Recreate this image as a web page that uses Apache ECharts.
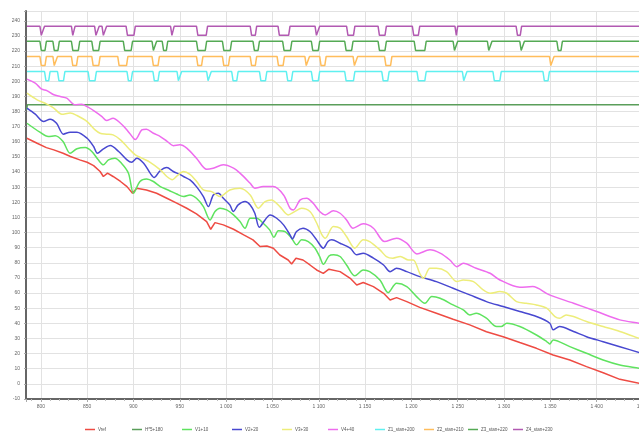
<!DOCTYPE html>
<html>
<head>
<meta charset="utf-8">
<title>V / Z curves</title>
<script src="https://cdn.jsdelivr.net/npm/echarts@6.0.0/dist/echarts.min.js"></script>
<style>
  html, body { margin: 0; padding: 0; background: #fff; }
  #main { width: 639px; height: 434px; }
</style>
</head>
<body>
<div id="main"></div>
<script>
// measured curves, [x, value] as plotted (offset already added)
var vref = [[785,162.4],[796,159.1],[806,156.2],[814,154.7],[824,152.5],[832,150.3],[842,148.1],[850,146.5],[857,144.3],[864,140.4],[867.5,137.1],[872,139.3],[878,137.1],[886,133.8],[893,130.4],[899,126.0],[903.5,129.3],[914,128.2],[925,126.0],[936,122.7],[946.7,119.5],[957.5,116.1],[968,112.4],[979,107.3],[983.4,102.2],[988,106.6],[997,105.1],[1008,102.2],[1019,98.5],[1029,95.2],[1036.6,90.8],[1044,91.2],[1051,89.7],[1058,85.2],[1067,81.9],[1070.7,79.3],[1075.4,83.0],[1083,81.9],[1090.5,78.6],[1097.7,75.3],[1104.9,73.1],[1111,75.8],[1123,74.2],[1134,69.8],[1141,65.4],[1148,67.0],[1159,64.3],[1170,59.9],[1177,55.5],[1184,57.0],[1195,54.4],[1209,50.6],[1227,46.7],[1245,42.7],[1263,39.0],[1281,34.5],[1299,31.2],[1317,27.3],[1335,23.5],[1353,19.1],[1371,15.8],[1389,11.4],[1407,7.4],[1425,3.0],[1446,0.4],[1450,-0.3]]

var hLine = [[784.5,181],[785.5,184.5],[1450,184.5]]

var v1 = [[785,172.3],[799,166.4],[808,163.5],[815.5,164.0],[824,160.2],[831.6,152.5],[839,155.4],[848,156.2],[855,153.6],[862,148.1],[867.6,144.8],[873,148.1],[880,149.2],[887,145.9],[894.6,139.3],[900,126.0],[907,133.8],[914,135.5],[921.5,133.8],[929,130.4],[938,128.0],[946.7,125.5],[954,123.8],[961,124.9],[968,122.7],[975.5,117.2],[982.7,108.4],[988,113.9],[993.4,116.1],[1000.6,115.0],[1008,111.7],[1015,107.3],[1020.4,102.9],[1026,109.5],[1033,109.5],[1040,106.2],[1047,101.8],[1051.7,96.9],[1056.4,101.3],[1063.6,100.7],[1070.7,96.3],[1076.1,91.9],[1081.5,95.2],[1088.7,94.1],[1096,89.7],[1101,84.1],[1105,79.0],[1111,84.5],[1116,85.3],[1123,84.2],[1130,78.6],[1139,71.4],[1148,75.3],[1155,74.2],[1166,68.7],[1175,60.3],[1184,66.5],[1195,64.3],[1205.6,57.7],[1214.6,53.3],[1222,57.7],[1231,56.6],[1245,52.2],[1256,48.9],[1263,45.6],[1270,46.7],[1281,43.4],[1292,37.9],[1297,37.9],[1303,40.1],[1317,37.9],[1335,32.3],[1346,28.0],[1349.4,26.4],[1353,29.0],[1371,24.6],[1389,20.2],[1407,15.8],[1425,12.5],[1446,10.3],[1450,9.8]]

var v2 = [[785,182.3],[794,178.3],[803,173.4],[810,175.0],[817,172.3],[824.4,165.1],[831.6,166.4],[839,166.4],[850,162.4],[857,156.9],[861,152.5],[867.6,155.4],[875,157.6],[884,153.6],[893,148.1],[898,146.5],[903.6,149.2],[911,145.9],[918,139.3],[922.3,136.4],[928.7,140.8],[936,143.0],[943,140.4],[950,138.5],[954,137.1],[961,134.8],[968,130.4],[975.5,123.8],[980.9,117.2],[986.2,124.9],[991.6,126.0],[997,122.7],[1004,118.3],[1007.8,113.9],[1013,118.3],[1020.4,120.5],[1026,118.3],[1031,112.8],[1035.9,103.5],[1042,108.4],[1047.4,111.7],[1054.6,109.5],[1062,105.1],[1069,98.5],[1071.5,95.8],[1076,100.7],[1083,102.9],[1090.5,100.7],[1097.7,95.2],[1104.9,89.7],[1110,94.1],[1114,95.2],[1123,93.0],[1134,89.7],[1141,85.3],[1148,86.4],[1159,83.1],[1170,78.6],[1177,74.2],[1184,76.4],[1195,74.2],[1209,70.9],[1227,67.6],[1245,63.2],[1263,58.8],[1281,54.4],[1299,51.1],[1317,47.8],[1335,44.5],[1349.4,40.1],[1353,35.7],[1360,37.9],[1375,34.6],[1389,31.2],[1407,27.9],[1425,24.6],[1446,20.7],[1450,20.1]]

var v3 = [[785,192.2],[796,187.8],[806.5,184.9],[814,182.3],[822.6,178.3],[831.6,179.0],[839,177.4],[850,173.4],[858.6,167.9],[864,165.7],[871,165.1],[878,164.6],[886,161.3],[894.6,155.8],[902,151.4],[909,149.2],[918,146.5],[929,141.5],[936,137.1],[942,135.0],[947,137.5],[954,140.4],[961,138.5],[968,134.0],[975.5,128.2],[984.4,127.1],[993.4,123.8],[1004,128.2],[1015,129.3],[1026,124.9],[1034.8,116.1],[1042,120.5],[1049,121.6],[1058,117.2],[1067,111.7],[1074,113.9],[1081.5,116.1],[1090.5,113.9],[1098,106.0],[1103,99.0],[1107,96.3],[1115.7,104.0],[1123,102.9],[1130,97.4],[1139,89.7],[1148,95.2],[1155,94.1],[1166,88.6],[1173,84.2],[1180,83.1],[1188,84.2],[1197,81.9],[1202,81.9],[1209,73.1],[1213,69.8],[1220,76.4],[1227,76.4],[1238,74.2],[1249,67.6],[1256,68.7],[1267,67.6],[1277.5,62.1],[1285,59.9],[1295.5,61.0],[1303,59.9],[1313.5,54.4],[1324,53.3],[1335,52.2],[1346,50.0],[1355,44.5],[1360,43.4],[1367,45.6],[1375,44.5],[1389,41.2],[1407,37.9],[1425,34.6],[1446,30.1],[1450,29.6]]

var v4 = [[785,201.5],[794,198.8],[801,194.8],[806.5,193.9],[814,191.1],[821,190.0],[828,188.9],[837,184.5],[844,184.9],[851,182.9],[858.6,180.0],[866,176.7],[871,174.1],[878,175.6],[886,172.3],[893,167.9],[900,162.4],[902,161.5],[909,167.9],[914,168.4],[921.5,165.7],[929,163.5],[936,160.5],[943,157.5],[950,158.0],[957.5,155.8],[968,149.2],[979,141.9],[986,142.6],[997,144.8],[1008,142.6],[1015,139.3],[1026,132.6],[1031,129.3],[1040,130.4],[1051,130.4],[1062,124.9],[1069,116.1],[1072.5,115.0],[1080,121.6],[1087,122.7],[1094,119.4],[1101,113.9],[1107,111.7],[1115.7,114.4],[1123,112.8],[1130,108.4],[1137,102.9],[1148,105.8],[1159,102.9],[1171,94.1],[1184,96.3],[1195,93.0],[1206,85.9],[1220,88.6],[1231,86.4],[1241.5,81.9],[1249,77.5],[1256,79.7],[1270,76.4],[1285,73.1],[1295.5,68.7],[1317,63.9],[1331,64.3],[1349,58.8],[1375,53.3],[1400,47.8],[1425,42.3],[1446,40.1],[1450,39.6]]

// Z*_stan: high / low level, and the [start, end] of each low pulse
var stanHigh = 6.5
var stanLow = 0.4
var z1Dips = [[804,810],[818,826],[851,860],[893,899],[921,928],[947,952],[979,984],[1006,1013],[1036,1044],[1065,1072],[1092,1101],[1128,1139],[1168,1176],[1206,1216],[1255,1260],[1288,1297],[1342,1349]]
var z2Dips = [[799,806],[813,818],[833,840],[855,864],[883,894],[920,928],[968,975],[996,1004],[1026,1033],[1055,1063],[1085,1090],[1101,1108],[1137,1142],[1171,1179],[1349,1354]]
var z3Dips = [[799,806],[813,820],[833,842],[855,864],[889,899],[920,925],[931,937],[968,979],[996,1006],[1029,1036],[1061,1071],[1092,1101],[1128,1137],[1164,1173],[1203,1216],[1245,1250],[1282,1287],[1317,1322],[1357,1363]]
var z4Dips = [[799,804],[833,837],[858,863],[866,871],[892,902],[940,944],[968,980],[1026,1033],[1056,1069],[1096,1101],[1130,1139],[1164,1173],[1201,1209],[1247,1250],[1313,1319]]

var legendNames = ['Vref', 'H*5+180', 'V1+10', 'V2+20', 'V3+30', 'V4+40', 'Z1_stan+200', 'Z2_stan+210', 'Z3_stan+220', 'Z4_stan+230']
var colors = ['#ee4b43', '#5a9e5a', '#5fe35f', '#4848d0', '#eded7a', '#ee6cee', '#5ff0f0', '#ffbd5c', '#55aa55', '#b25ab2']
// left edge (px) of each legend entry, legend slots are evenly spread
var legendLeft = [85, 132, 182, 232, 282, 328, 375, 424, 468, 513]

// pulse list -> polyline
function stepLine (dips, offset) {
  var pts = [[785, offset + stanHigh]]
  dips.forEach(function (d) {
    pts.push([d[0], offset + stanHigh])
    pts.push([d[0] + 1.5, offset + stanLow])
    pts.push([d[1] - 1.5, offset + stanLow])
    pts.push([d[1], offset + stanHigh])
  })
  pts.push([1450, offset + stanHigh])
  return pts
}

function thousands (v) {
  return String(v).replace(/\B(?=(\d{3})+(?!\d))/g, ' ')
}

var seriesData = [vref, hLine, v1, v2, v3, v4,
  stepLine(z1Dips, 200), stepLine(z2Dips, 210), stepLine(z3Dips, 220), stepLine(z4Dips, 230)]

var series = seriesData.map(function (d, i) {
  return {
    name: legendNames[i],
    type: 'line',
    data: d,
    showSymbol: false,
    smooth: (i >= 2 && i <= 5) ? 0.3 : false,
    lineStyle: { width: 1.5, color: colors[i] },
    itemStyle: { color: colors[i] }
  }
})

// one legend per entry so every slot sits where it does in the picture
var legends = legendNames.map(function (name, i) {
  return {
    data: [name],
    top: 427,
    left: legendLeft[i],
    padding: 0,
    icon: 'rect',
    itemWidth: 10,
    itemHeight: 1.5,
    textStyle: { fontSize: 4.5, color: '#555', padding: [0, 0, 0, -2] }
  }
})

var chart = echarts.init(document.getElementById('main'))
chart.setOption({
  animation: false,
  backgroundColor: '#fff',
  textStyle: { fontFamily: 'Liberation Sans' },
  // plot runs past the right edge of the picture (1 450 is cut off)
  grid: { left: 26, width: 617, top: 11, bottom: 35, outerBoundsMode: 'none', containLabel: false },
  legend: legends,
  xAxis: {
    type: 'value',
    min: 784,
    max: 1450,
    splitNumber: 13,
    axisLine: { onZero: false, lineStyle: { color: '#666', width: 2 } },
    axisTick: { show: true, length: 3, lineStyle: { color: '#aaa' } },
    minorTick: { show: true, splitNumber: 5, length: 2, lineStyle: { color: '#bbb' } },
    axisLabel: {
      fontSize: 5,
      color: '#666',
      margin: 5,
      formatter: function (v) { return v % 50 === 0 ? thousands(v) : '' }
    },
    splitLine: { show: true, lineStyle: { color: '#e2e2e2', width: 1 } }
  },
  yAxis: {
    type: 'value',
    min: -10,
    max: 246.5,
    interval: 10,
    axisLine: { show: true, onZero: false, lineStyle: { color: '#666', width: 2 } },
    axisTick: { show: true, length: 2, lineStyle: { color: '#aaa' } },
    axisLabel: {
      fontSize: 5,
      color: '#666',
      margin: 6,
      formatter: function (v) { return v % 10 === 0 ? String(v) : '' }
    },
    splitLine: { show: true, lineStyle: { color: '#e2e2e2', width: 1 } }
  },
  series: series
})
</script>
</body>
</html>
